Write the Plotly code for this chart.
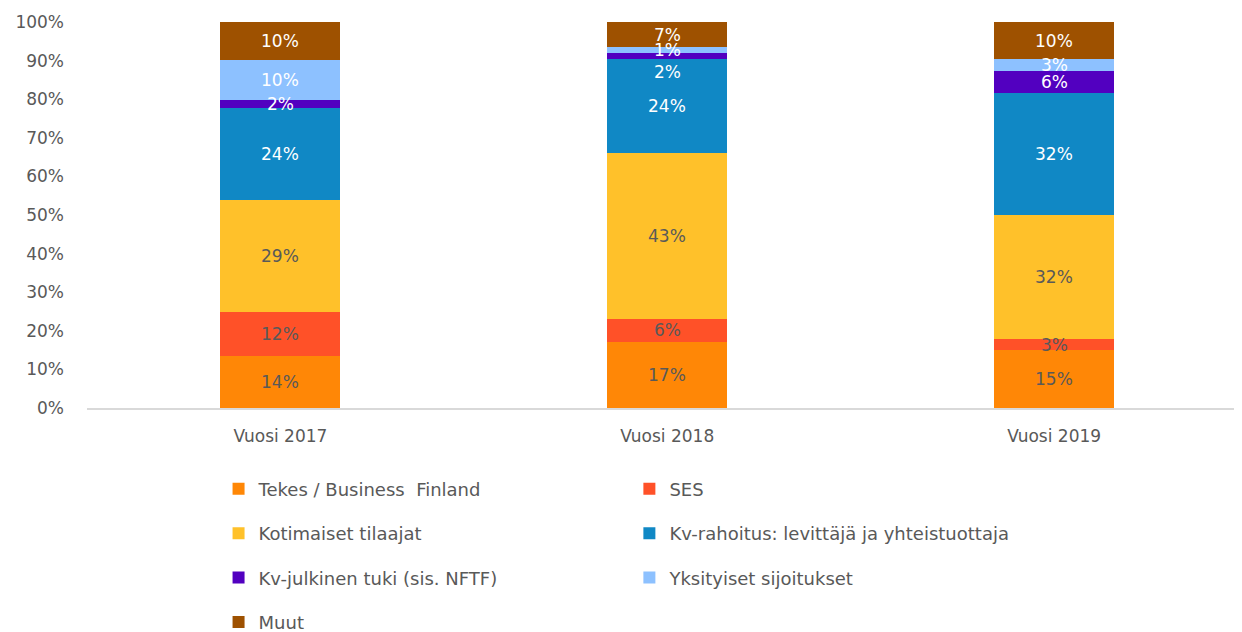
import plotly.graph_objects as go

categories = ["Vuosi 2017", "Vuosi 2018", "Vuosi 2019"]

series_names = [
    "Tekes / Business  Finland",
    "SES",
    "Kotimaiset tilaajat",
    "Kv-rahoitus: levittäjä ja yhteistuottaja",
    "Kv-julkinen tuki (sis. NFTF)",
    "Yksityiset sijoitukset",
    "Muut",
]

tekes = [13.5, 17.1, 15.0]
ses = [11.4, 6.0, 2.9]
kotimaiset = [29.0, 43.0, 32.1]
kv_rahoitus = [23.8, 24.3, 31.6]
kv_julkinen = [2.1, 1.6, 5.7]
yksityiset = [10.4, 1.4, 3.1]
muut = [9.8, 6.6, 9.6]

labels_tekes = ["14%", "17%", "15%"]
labels_ses = ["12%", "6%", "3%"]
labels_kotimaiset = ["29%", "43%", "32%"]
labels_kv_rahoitus = ["24%", "24%", "32%"]
labels_kv_julkinen = ["2%", "2%", "6%"]
labels_yksityiset = ["10%", "1%", "3%"]
labels_muut = ["10%", "7%", "10%"]

values = [tekes, ses, kotimaiset, kv_rahoitus, kv_julkinen, yksityiset, muut]
labels = [labels_tekes, labels_ses, labels_kotimaiset, labels_kv_rahoitus,
          labels_kv_julkinen, labels_yksityiset, labels_muut]

colors = ["#FF8706", "#FF5128", "#FFC12A", "#1088C5", "#5200C0", "#8DC1FF", "#9E5100"]
label_colors = ["#595959", "#595959", "#595959", "#FFFFFF", "#FFFFFF", "#FFFFFF", "#FFFFFF"]
legend_ids = ["legend", "legend2", "legend", "legend2", "legend", "legend2", "legend"]
# manual label nudges (pixels) mirroring the original chart's dragged labels
label_shift = {(4, 1): -16}

FONT = "DejaVu Sans"
GRAY = "#595959"

fig = go.Figure()
for i, (name, vals) in enumerate(zip(series_names, values)):
    fig.add_trace(go.Bar(
        x=categories, y=vals, name=name,
        marker=dict(color=colors[i], line=dict(width=0)),
        width=0.31,
        legend=legend_ids[i],
        legendgroup=name,
        hoverinfo="skip",
    ))

# data labels at segment centers
cum = [0.0] * len(categories)
for i, vals in enumerate(values):
    for j, v in enumerate(vals):
        center = cum[j] + v / 2
        fig.add_annotation(
            x=categories[j], y=center, text=labels[i][j], showarrow=False,
            font=dict(family=FONT, size=17, color=label_colors[i]),
            yshift=label_shift.get((i, j), 0),
        )
        cum[j] += v

fig.update_layout(
    barmode="stack",
    width=1234, height=624,
    margin=dict(l=79, r=1, t=14, b=224, autoexpand=False),
    paper_bgcolor="white", plot_bgcolor="white",
    font=dict(family=FONT, size=17, color=GRAY),
    xaxis=dict(
        range=[-0.5, 2.483], showline=True, linecolor="#D9D9D9", linewidth=1.5,
        ticks="outside", ticklen=12, tickcolor="rgba(0,0,0,0)", automargin=False,
        tickfont=dict(family=FONT, size=17, color=GRAY), showgrid=False,
    ),
    yaxis=dict(
        range=[0, 100], dtick=10, ticksuffix="%", showgrid=False, zeroline=False,
        showline=False, ticklabelstandoff=22, automargin=False,
        tickfont=dict(family=FONT, size=17, color=GRAY),
    ),
    legend=dict(
        x=0.114, y=-0.162, xanchor="left", yanchor="top",
        orientation="v", traceorder="grouped", tracegroupgap=18,
        font=dict(family=FONT, size=18, color=GRAY), bgcolor="rgba(0,0,0,0)",
    ),
    legend2=dict(
        x=0.470, y=-0.162, xanchor="left", yanchor="top",
        orientation="v", traceorder="grouped", tracegroupgap=18,
        font=dict(family=FONT, size=18, color=GRAY), bgcolor="rgba(0,0,0,0)",
    ),
)

fig.write_html("out.html")
